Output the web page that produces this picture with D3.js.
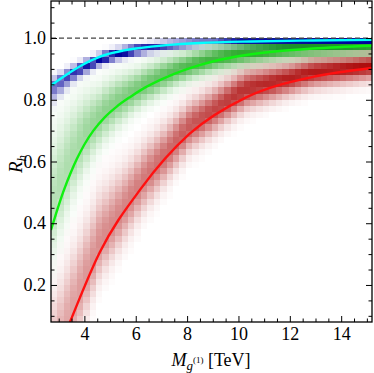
<!DOCTYPE html>
<html><head><meta charset="utf-8">
<script src="https://cdn.jsdelivr.net/npm/d3@7"></script>
<style>body{margin:0;background:#fff}svg{display:block}</style>
</head><body><svg id="c" width="374" height="373"></svg>
<script>
// ---------- data ----------
const xDomain = [2.7, 15.2];
const yDomain = [0.08, 1.12];
const xMajorTicks = [4, 6, 8, 10, 12, 14];
const xMinorTicks = [3, 3.5, 4.5, 5, 5.5, 6.5, 7, 7.5, 8.5, 9, 9.5, 10.5, 11, 11.5, 12.5, 13, 13.5, 14.5, 15];
const yMajorTicks = [0.2, 0.4, 0.6, 0.8, 1.0];
const yMinorTicks = [0.1, 0.15, 0.25, 0.3, 0.35, 0.45, 0.5, 0.55, 0.65, 0.7, 0.75, 0.85, 0.9, 0.95, 1.05, 1.1];
const binW = 0.25, binH = 0.02, rMax = 1.0;

// fitted curves
const cyanX = [2.7, 3.0, 3.3, 3.6, 3.9, 4.2, 4.5, 4.8, 5.1, 5.5, 6.0, 6.6, 7.2, 8.5, 10.5, 12.9, 15.2];
const cyanY = [0.846, 0.864, 0.881, 0.897, 0.912, 0.925, 0.936, 0.945, 0.952, 0.959, 0.966, 0.972, 0.977, 0.984, 0.989, 0.992, 0.994];
const greenX = [2.7, 2.9, 3.17, 3.5, 3.7, 4.0, 4.35, 4.8, 5.26, 5.8, 6.29, 7.0, 7.5, 8.2, 9.0, 10.3, 11.6, 12.9, 15.2];
const greenY = [0.378, 0.432, 0.50, 0.57, 0.607, 0.655, 0.70, 0.744, 0.778, 0.81, 0.836, 0.866, 0.884, 0.905, 0.924, 0.945, 0.958, 0.966, 0.975];
const redX = [2.7, 3.44, 4.6, 6.2, 8.1, 10.3, 12.9, 15.2];
const redY = [-0.075, 0.08, 0.306, 0.512, 0.69, 0.808, 0.874, 0.903];

// scatter-density bands: knots in x, centre offset from curve, spread below/above, peak density
const redKnots  = [2.7, 3.5, 4.5, 6, 8, 10, 12, 15.2];
const redShift  = [0.03, 0.03, 0.03, 0.02, 0.025, 0.03, 0.02, 0.01];
const redLow    = [0.10, 0.09, 0.07, 0.065, 0.05, 0.042, 0.034, 0.03];
const redHigh   = [0.12, 0.11, 0.10, 0.07, 0.05, 0.04, 0.03, 0.022];
const redPeak   = [0.30, 0.36, 0.44, 0.50, 0.64, 0.80, 0.88, 0.95];

const greenKnots = [2.7, 3.5, 4.5, 6, 8, 10, 12, 15.2];
const greenShift = [0.06, 0.04, 0.02, 0.01, 0.01, 0.01, 0.008, 0.005];
const greenLow   = [0.10, 0.085, 0.06, 0.04, 0.03, 0.025, 0.021, 0.018];
const greenHigh  = [0.14, 0.10, 0.06, 0.04, 0.028, 0.022, 0.018, 0.014];
const greenPeak  = [0.28, 0.33, 0.42, 0.52, 0.68, 0.80, 0.88, 0.92];

const blueKnots = [2.7, 3.5, 4.5, 6, 8, 9, 10, 12, 15.2];
const blueShift = [-0.01, -0.008, -0.01, -0.005, 0, 0.005, 0.0, -0.004, -0.004];
const blueLow   = [0.03, 0.018, 0.012, 0.01, 0.01, 0.01, 0.008, 0.008, 0.008];
const blueHigh  = [0.02, 0.015, 0.012, 0.01, 0.01, 0.01, 0.008, 0.008, 0.008];
const bluePeak  = [0.55, 0.8, 1.0, 1.0, 0.6, 0.5, 0.95, 1.0, 1.0];

// ---------- layout ----------
const svg = d3.select("#c");
const L = 51, R = 372, T = 1, B = 322;
const x = d3.scaleLinear().domain(xDomain).range([L, R]);
const y = d3.scaleLinear().domain(yDomain).range([B, T]);

svg.append("defs").append("clipPath").attr("id", "clip")
  .append("rect").attr("x", L).attr("y", T).attr("width", R - L).attr("height", B - T);
const plot = svg.append("g").attr("clip-path", "url(#clip)");

const series = [
  {X: redX, Y: redY, knots: redKnots, shift: redShift, lo: redLow, hi: redHigh, peak: redPeak, cell: "#a80000", line: "#ff1010"},
  {X: greenX, Y: greenY, knots: greenKnots, shift: greenShift, lo: greenLow, hi: greenHigh, peak: greenPeak, cell: "#009600", line: "#10f010"},
  {X: cyanX, Y: cyanY, knots: blueKnots, shift: blueShift, lo: blueLow, hi: blueHigh, peak: bluePeak, cell: "#00009c", line: "#00ffff"}
];

const nx = Math.round((xDomain[1] - xDomain[0]) / binW);
const ny = Math.round((rMax - yDomain[0]) / binH);

series.forEach(s => {
  const curve = d3.scaleLinear().domain(s.X).range(s.Y);
  const sh = d3.scaleLinear().domain(s.knots).range(s.shift);
  const lo = d3.scaleLinear().domain(s.knots).range(s.lo);
  const hi = d3.scaleLinear().domain(s.knots).range(s.hi);
  const pk = d3.scaleLinear().domain(s.knots).range(s.peak);
  const cells = [];
  for (let i = 0; i < nx; i++) {
    const x0 = xDomain[0] + i * binW, xc = x0 + binW / 2;
    const c = curve(xc) + sh(xc);
    for (let j = 0; j < ny; j++) {
      const y0 = yDomain[0] + j * binH, yc = y0 + binH / 2;
      const sg = yc < c ? lo(xc) : hi(xc);
      const v = pk(xc) * Math.exp(-0.5 * Math.pow((yc - c) / sg, 2));
      if (v > 0.012) cells.push({x0, y0, v});
    }
  }
  plot.append("g").attr("shape-rendering", "crispEdges")
    .selectAll("rect").data(cells).join("rect")
    .attr("x", d => x(d.x0)).attr("y", d => y(d.y0 + binH))
    .attr("width", d => x(d.x0 + binW) - x(d.x0))
    .attr("height", d => y(d.y0) - y(d.y0 + binH))
    .attr("fill", s.cell).attr("fill-opacity", d => Math.min(1, d.v));
});

// dashed line at R = 1
plot.append("line").attr("x1", L).attr("x2", R).attr("y1", y(1)).attr("y2", y(1))
  .attr("stroke", "#444").attr("stroke-width", 1.2).attr("stroke-dasharray", "5,3");

// curves
series.forEach(s => {
  const pts = s.X.map((v, i) => [v, s.Y[i]]);
  plot.append("path").datum(pts)
    .attr("d", d3.line().x(d => x(d[0])).y(d => y(d[1])).curve(d3.curveMonotoneX))
    .attr("fill", "none").attr("stroke", s.line).attr("stroke-width", 2.4);
});

// frame with ticks on all sides
const font = "Liberation Serif, Times New Roman, serif";
svg.append("g").attr("transform", `translate(0,${B})`)
  .call(d3.axisBottom(x).tickValues(xMajorTicks).tickSize(-6).tickPadding(5).tickFormat(d3.format("d")));
svg.append("g").attr("transform", `translate(0,${B})`)
  .call(d3.axisBottom(x).tickValues(xMinorTicks).tickSize(-3.5).tickFormat(""));
svg.append("g").attr("transform", `translate(0,${T})`)
  .call(d3.axisTop(x).tickValues(xMajorTicks).tickSize(-6).tickFormat(""));
svg.append("g").attr("transform", `translate(0,${T})`)
  .call(d3.axisTop(x).tickValues(xMinorTicks).tickSize(-3.5).tickFormat(""));
svg.append("g").attr("transform", `translate(${L},0)`)
  .call(d3.axisLeft(y).tickValues(yMajorTicks).tickSize(-6).tickPadding(5).tickFormat(d3.format(".1f")));
svg.append("g").attr("transform", `translate(${L},0)`)
  .call(d3.axisLeft(y).tickValues(yMinorTicks).tickSize(-3.5).tickFormat(""));
svg.append("g").attr("transform", `translate(${R},0)`)
  .call(d3.axisRight(y).tickValues(yMajorTicks).tickSize(-6).tickFormat(""));
svg.append("g").attr("transform", `translate(${R},0)`)
  .call(d3.axisRight(y).tickValues(yMinorTicks).tickSize(-3.5).tickFormat(""));
svg.selectAll(".domain").remove();
svg.selectAll("g").attr("font-family", null);
svg.selectAll(".tick line").attr("stroke", "#000").attr("stroke-width", 1);
svg.selectAll(".tick text").style("font-family", font).style("font-size", "18px").attr("fill", "#000");
svg.append("rect").attr("x", L).attr("y", T).attr("width", R - L).attr("height", B - T)
  .attr("fill", "none").attr("stroke", "#000").attr("stroke-width", 1.3);

// axis titles
const xt = svg.append("text").attr("x", 211).attr("y", 366).attr("text-anchor", "middle")
  .style("font-family", font).style("font-size", "18px");
xt.append("tspan").attr("font-style", "italic").text("M");
xt.append("tspan").attr("font-style", "italic").style("font-size", "13px").attr("dy", 4).text("g");
xt.append("tspan").style("font-size", "9px").attr("dy", -7).text("(1)");
xt.append("tspan").attr("dy", 3).text(" [TeV]");

const yt = svg.append("text").attr("transform", "translate(22,164) rotate(-90)")
  .attr("text-anchor", "middle").style("font-family", font).style("font-size", "19px");
yt.append("tspan").attr("font-style", "italic").text("R");
yt.append("tspan").attr("font-style", "italic").style("font-size", "13px").attr("dy", 4).text("h");
</script></body></html>
